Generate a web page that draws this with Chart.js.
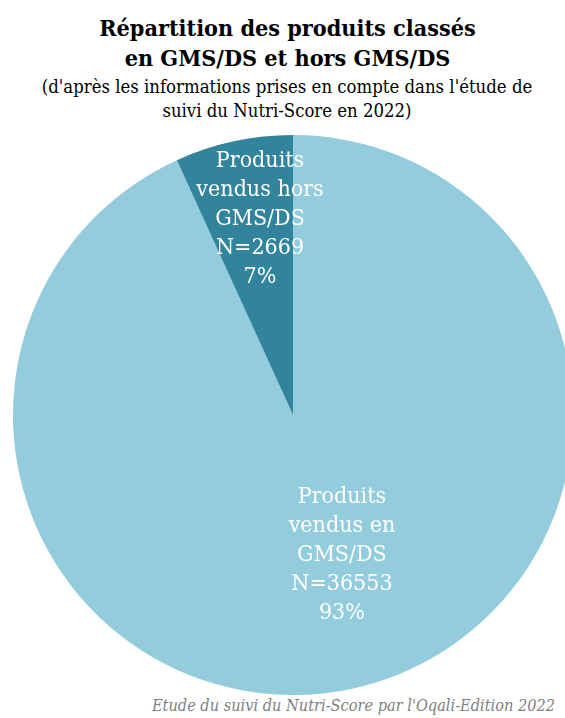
<!DOCTYPE html>
<html>
<head>
<meta charset="utf-8">
<script src="https://cdn.jsdelivr.net/npm/chart.js@4"></script>
<style>
  html, body { margin: 0; padding: 0; background: #fff; overflow: hidden; width: 565px; height: 718px; }
  body { position: relative; font-family: "DejaVu Serif Condensed", "DejaVu Serif", serif; }
  .title { position: absolute; left: 0; width: 575px; text-align: center; font-weight: bold; font-size: 23.2px; line-height: 30px; top: 13px; color: #000; }
  .subtitle { position: absolute; left: 0; width: 574px; text-align: center; font-size: 18.4px; line-height: 24px; top: 75px; color: #000; }
  .footer { position: absolute; right: 10px; top: 696px; font-style: italic; font-size: 16.2px; color: #7f7f7f; white-space: nowrap; }
  #pieBox { position: absolute; left: 13px; top: 135px; width: 560px; height: 560px; }
</style>
</head>
<body>
<div class="title">Répartition des produits classés<br>en GMS/DS et hors GMS/DS</div>
<div class="subtitle">(d'après les informations prises en compte dans l'étude de<br>suivi du Nutri-Score en 2022)</div>
<div id="pieBox"><canvas id="pieChart"></canvas></div>
<div class="footer">Etude du suivi du Nutri-Score par l'Oqali-Edition 2022</div>

<script>
// --- DATA ---
const categories = ["Produits vendus en GMS/DS", "Produits vendus hors GMS/DS"];
const labelLines = [
  ["Produits", "vendus en", "GMS/DS"],
  ["Produits", "vendus hors", "GMS/DS"]
];
const counts = [36553, 2669];
const percents = ["93%", "7%"];
const colors = ["#93CDDD", "#31849B"];

// label placement inside the slices (fraction of radius, angle shift in degrees)
const labelPlacement = [
  { radius: 0.53, shift: -7 },
  { radius: 0.71, shift: 2.7 }
];

// --- LABEL PLUGIN ---
const sliceLabels = {
  id: 'sliceLabels',
  afterDatasetsDraw(chart) {
    const ctx = chart.ctx;
    const meta = chart.getDatasetMeta(0);
    meta.data.forEach((arc, i) => {
      const p = arc.getProps(['x', 'y', 'startAngle', 'endAngle', 'outerRadius'], true);
      const a = (p.startAngle + p.endAngle) / 2 + labelPlacement[i].shift * Math.PI / 180;
      const r = p.outerRadius * labelPlacement[i].radius;
      const x = p.x + Math.cos(a) * r;
      const y = p.y + Math.sin(a) * r;
      const lines = labelLines[i].concat(["N=" + counts[i], percents[i]]);
      const lh = 29;
      ctx.save();
      ctx.fillStyle = '#fff';
      ctx.font = '23px "DejaVu Serif Condensed", "DejaVu Serif", serif';
      ctx.textAlign = 'center';
      ctx.textBaseline = 'middle';
      lines.forEach((t, k) => {
        ctx.fillText(t, x, y + (k - (lines.length - 1) / 2) * lh);
      });
      ctx.restore();
    });
  }
};

function initChart() {
  const ctx = document.getElementById('pieChart').getContext('2d');
  new Chart(ctx, {
    type: 'pie',
    data: {
      labels: categories,
      datasets: [{ data: counts, backgroundColor: colors, borderWidth: 0 }]
    },
    options: {
      responsive: true,
      maintainAspectRatio: false,
      animation: false,
      layout: { padding: 0 },
      plugins: {
        legend: { display: false },
        tooltip: { enabled: false }
      }
    },
    plugins: [sliceLabels]
  });
}

window.addEventListener("load", initChart);
</script>
</body>
</html>
